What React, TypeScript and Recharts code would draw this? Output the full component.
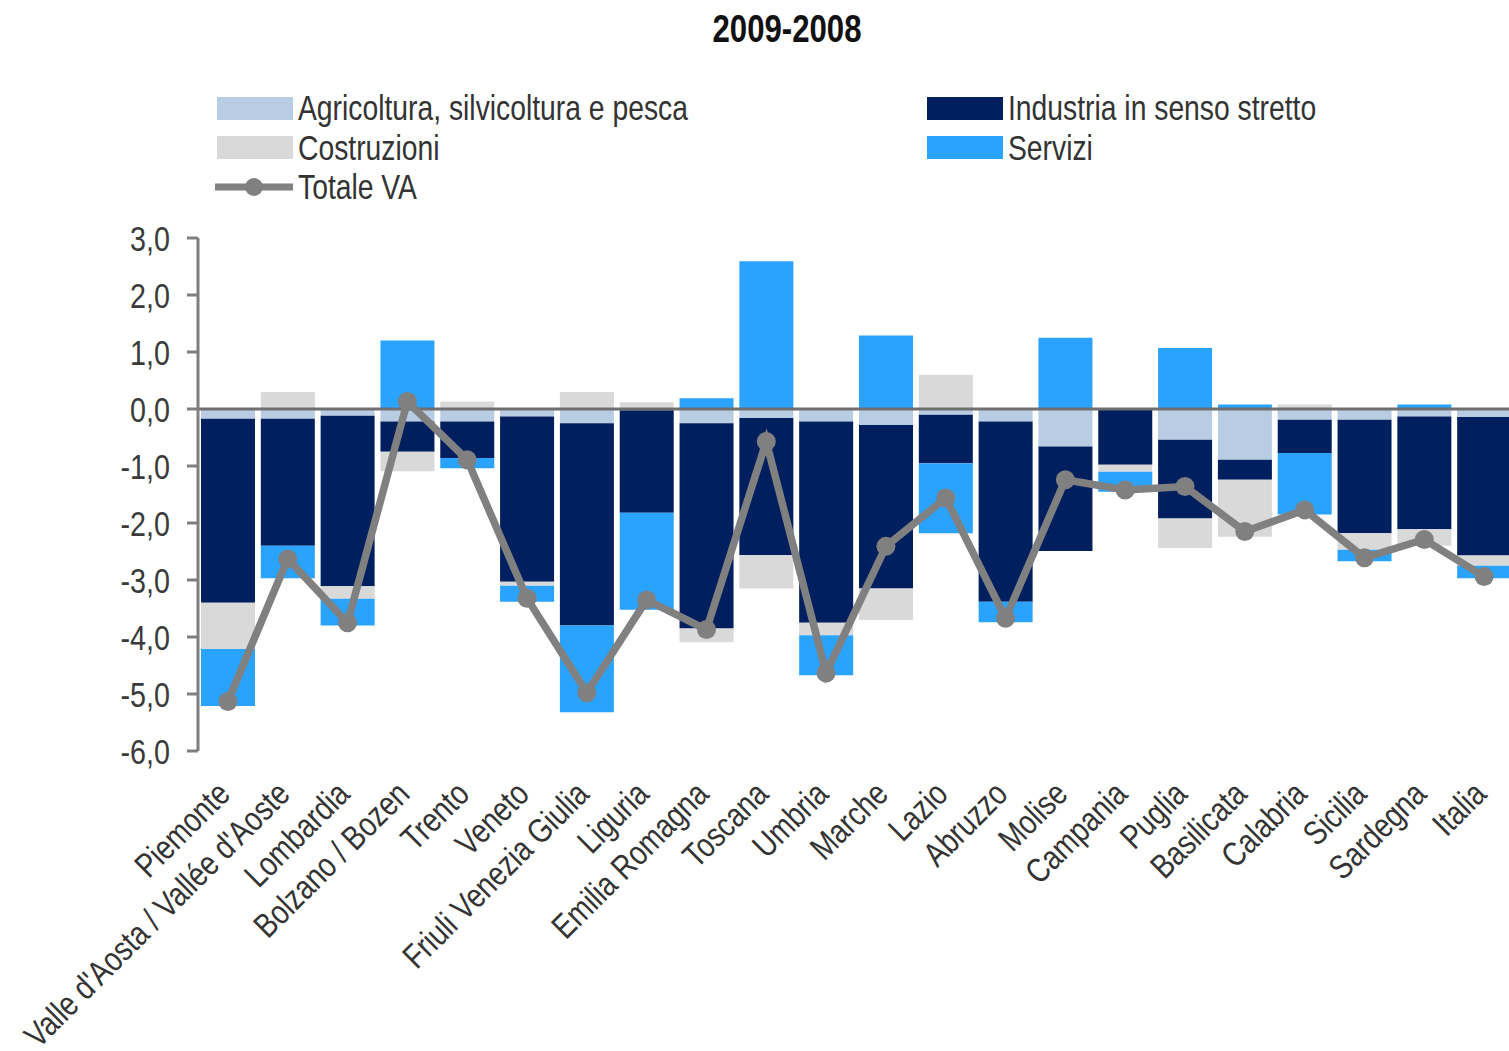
import React from 'react';
import { ComposedChart, Bar, Line, XAxis, YAxis, ReferenceLine, Legend } from 'recharts';

const categories = [
  'Piemonte', "Valle d'Aosta / Vallée d'Aoste", 'Lombardia', 'Bolzano / Bozen', 'Trento', 'Veneto',
  'Friuli Venezia Giulia', 'Liguria', 'Emilia Romagna', 'Toscana', 'Umbria', 'Marche', 'Lazio',
  'Abruzzo', 'Molise', 'Campania', 'Puglia', 'Basilicata', 'Calabria', 'Sicilia', 'Sardegna', 'Italia',
];
const agricoltura = [-0.17, -0.17, -0.12, -0.22, -0.22, -0.13, -0.25, -0.02, -0.25, -0.16, -0.22, -0.28, -0.10, -0.22, -0.66, -0.01, -0.54, -0.89, -0.19, -0.19, -0.13, -0.14];
const industria = [-3.23, -2.23, -2.99, -0.53, -0.64, -2.90, -3.55, -1.80, -3.60, -2.40, -3.53, -2.87, -0.85, -3.16, -1.83, -0.97, -1.38, -0.35, -0.58, -1.99, -1.98, -2.43];
const costruzioni = [-0.81, 0.30, -0.22, -0.34, 0.13, -0.07, 0.30, 0.12, -0.24, -0.59, -0.22, -0.55, 0.60, 0, 0, -0.12, -0.52, -1.00, 0.08, -0.29, -0.29, -0.18];
const servizi = [-1.00, -0.57, -0.47, 1.20, -0.18, -0.28, -1.52, -1.70, 0.19, 2.59, -0.70, 1.29, -1.23, -0.36, 1.25, -0.35, 1.07, 0.08, -1.08, -0.20, 0.08, -0.22];
const totale = [-5.13, -2.63, -3.75, 0.13, -0.89, -3.32, -4.98, -3.35, -3.87, -0.57, -4.63, -2.41, -1.56, -3.67, -1.24, -1.42, -1.36, -2.15, -1.77, -2.61, -2.29, -2.94];
const yTicks = [3, 2, 1, 0, -1, -2, -3, -4, -5, -6];

const title = '2009-2008';
const barSeries = [
  { key: 'agr', name: 'Agricoltura, silvicoltura e pesca', color: '#B8CCE4', values: agricoltura },
  { key: 'ind', name: 'Industria in senso stretto', color: '#001F5F', values: industria },
  { key: 'cos', name: 'Costruzioni', color: '#D9D9D9', values: costruzioni },
  { key: 'ser', name: 'Servizi', color: '#2AA3FF', values: servizi },
];
const lineSeries = { key: 'tot', name: 'Totale VA', color: '#808080', values: totale };

const data = categories.map((name, i) => {
  const row: any = { name };
  barSeries.forEach((s) => { row[s.key] = s.values[i]; });
  row[lineSeries.key] = lineSeries.values[i];
  return row;
});

const FONT = "'Liberation Sans', Arial, sans-serif";
const NARROW = 0.82;

const YTick = (props: any) => {
  const { x, y, payload } = props;
  return (
    <text transform={`translate(${x}, ${y}) scale(${NARROW}, 1)`} dy="0.36em" textAnchor="end" fontFamily={FONT} fontSize={35} fill="#3a3a3a">
      {Number(payload.value).toFixed(1).replace('.', ',')}
    </text>
  );
};

const XTick = (props: any) => {
  const { x, payload } = props;
  return (
    <text transform={`translate(${x + 4}, 796) rotate(-45) scale(${NARROW}, 1)`} textAnchor="end" fontFamily={FONT} fontSize={34} fill="#333">
      {payload.value}
    </text>
  );
};

const LegendContent = () => {
  const items: any[] = [...barSeries.map((s) => ({ ...s, type: 'rect' })), { ...lineSeries, type: 'line' }];
  return (
    <div style={{ position: 'relative', width: 1509, height: 130 }}>
      {items.map((it, i) => {
        const col = i % 2;
        const row = Math.floor(i / 2);
        const left = col === 0 ? 215 : 925;
        const top = row * 39.5;
        return (
          <div key={it.key} style={{ position: 'absolute', left, top, height: 40, display: 'flex', alignItems: 'center' }}>
            {it.type === 'rect' ? (
              <div style={{ width: 76, height: 23, marginLeft: 2, background: it.color }} />
            ) : (
              <svg width={78} height={24} style={{ display: 'block' }}>
                <line x1={0} y1={12} x2={78} y2={12} stroke={it.color} strokeWidth={7} />
                <circle cx={39} cy={12} r={9} fill={it.color} />
              </svg>
            )}
            <span style={{ marginLeft: 5, fontFamily: FONT, fontSize: 34.5, color: '#333', whiteSpace: 'nowrap', lineHeight: '40px', display: 'inline-block', transform: `scaleX(${NARROW})`, transformOrigin: 'left center' }}>
              {it.name}
            </span>
          </div>
        );
      })}
    </div>
  );
};

export default function App() {
  return (
    <div style={{ position: 'absolute', left: 0, top: 0, width: 1509, height: 1051, background: '#fff', overflow: 'hidden' }}>
      <div style={{ position: 'absolute', top: 7, left: 787, transform: `translateX(-50%) scaleX(${NARROW})`, fontFamily: FONT, fontWeight: 'bold', fontSize: 38, lineHeight: '44px', color: '#111', whiteSpace: 'nowrap' }}>
        {title}
      </div>
      <ComposedChart
        width={1509}
        height={1051}
        data={data}
        stackOffset="sign"
        barCategoryGap="5%"
        margin={{ top: 238, right: -5, bottom: 0, left: 0 }}
      >
        <XAxis dataKey="name" interval={0} height={300} axisLine={false} tickLine={false} tick={<XTick />} />
        <YAxis
          width={198}
          domain={[-6, 3]}
          ticks={yTicks}
          interval={0}
          allowDataOverflow
          axisLine={{ stroke: '#7f7f7f', strokeWidth: 3 }}
          tickLine={{ stroke: '#7f7f7f', strokeWidth: 3 }}
          tickSize={11}
          tickMargin={17}
          tick={<YTick />}
        />
        <Legend
          layout="vertical"
          align="center"
          verticalAlign="middle"
          wrapperStyle={{ top: 88, left: 0, width: 1509, height: 130 }}
          content={<LegendContent />}
        />
        {barSeries.map((s) => (
          <Bar key={s.key} dataKey={s.key} name={s.name} stackId="a" fill={s.color} isAnimationActive={false} />
        ))}
        <ReferenceLine y={0} stroke="#6f6f6f" strokeWidth={3} />
        <Line
          dataKey={lineSeries.key}
          name={lineSeries.name}
          stroke={lineSeries.color}
          strokeWidth={7.5}
          dot={{ r: 9.5, fill: lineSeries.color, stroke: lineSeries.color, strokeWidth: 0 }}
          activeDot={false}
          isAnimationActive={false}
        />
      </ComposedChart>
    </div>
  );
}
